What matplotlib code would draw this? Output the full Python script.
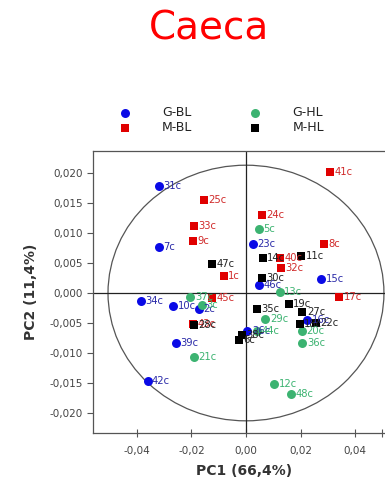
import matplotlib
matplotlib.use("Agg")
import matplotlib.pyplot as plt
from matplotlib.patches import Ellipse
from matplotlib.ticker import FuncFormatter, FixedLocator

# ---- data ----
gbl_names = ["31c", "7c", "23c", "46c", "15c", "34c", "10c", "2c", "39c", "42c", "26c", "16c"]
gbl_x = [-0.0319, -0.0319, 0.0026, 0.0049, 0.0275, -0.0386, -0.0267, -0.0174, -0.0257, -0.0361, 0.0005, 0.0225]
gbl_y = [0.0179, 0.0077, 0.0082, 0.0014, 0.0023, -0.0013, -0.0022, -0.0027, -0.0084, -0.0146, -0.0064, -0.0045]

ghl_names = ["5c", "13c", "37c", "3c", "21c", "29c", "44c", "20c", "36c", "12c", "48c"]
ghl_x = [0.0048, 0.0124, -0.0204, -0.0163, -0.0190, 0.0071, 0.0040, 0.0206, 0.0207, 0.0104, 0.0164]
ghl_y = [0.0106, 0.0002, -0.0007, -0.0020, -0.0106, -0.0043, -0.0064, -0.0063, -0.0083, -0.0151, -0.0169]

mbl_names = ["41c", "25c", "33c", "9c", "1c", "24c", "8c", "40c", "32c", "17c", "45c", "43c"]
mbl_x = [0.0308, -0.0155, -0.0191, -0.0196, -0.0082, 0.0059, 0.0287, 0.0124, 0.0127, 0.0342, -0.0124, -0.0195]
mbl_y = [0.0201, 0.0155, 0.0111, 0.0087, 0.0029, 0.0130, 0.0081, 0.0058, 0.0042, -0.0006, -0.0009, -0.0052]

mhl_names = ["47c", "14c", "11c", "30c", "35c", "19c", "27c", "22c", "18c", "38c", "6c", "28c"]
mhl_x = [-0.0125, 0.0061, 0.0203, 0.0059, 0.0039, 0.0157, 0.0207, 0.0256, 0.0197, -0.0014, -0.0026, -0.0190]
mhl_y = [0.0049, 0.0059, 0.0061, 0.0025, -0.0026, -0.0018, -0.0032, -0.0050, -0.0051, -0.0070, -0.0079, -0.0054]

x_ticks = [-0.04, -0.02, 0.00, 0.02, 0.04]
y_ticks = [-0.020, -0.015, -0.010, -0.005, 0.000, 0.005, 0.010, 0.015, 0.020]

# ---- figure ----
fig = plt.figure(figsize=(3.85, 4.83), dpi=100)
ax = fig.add_axes([0.2416, 0.1035, 0.7868, 0.5839])
ax.set_xlim(-0.0561, 0.055)
ax.set_ylim(-0.02333, 0.02367)

ax.add_patch(Ellipse((0, 0), 2 * 0.0506, 2 * 0.0213, fill=False, edgecolor="#555555", lw=0.9))
ax.axhline(0, color="#222222", lw=0.9)
ax.axvline(0, color="#222222", lw=0.9)

groups = [
    (gbl_names, gbl_x, gbl_y, "o", "#0a0ae6", "#2a2aa8", 42, "G-BL"),
    (ghl_names, ghl_x, ghl_y, "o", "#3cb371", "#3cb371", 42, "G-HL"),
    (mbl_names, mbl_x, mbl_y, "s", "#e00000", "#d02a2a", 34, "M-BL"),
    (mhl_names, mhl_x, mhl_y, "s", "#000000", "#222222", 34, "M-HL"),
]
handles = {}
for names, xs, ys, mk, col, tcol, s, lab in groups:
    h = ax.scatter(xs, ys, marker=mk, s=s, color=col, linewidths=0, label=lab, zorder=3)
    handles[lab] = h
    for n, x, y in zip(names, xs, ys):
        ax.annotate(n, (x, y), xytext=(3.2, 0), textcoords="offset points",
                    va="center", ha="left", fontsize=7.2, color=tcol, zorder=4)

ax.xaxis.set_major_locator(FixedLocator(x_ticks))
ax.xaxis.set_minor_locator(FixedLocator([0.05]))
ax.yaxis.set_major_locator(FixedLocator(y_ticks))
ax.xaxis.set_major_formatter(FuncFormatter(lambda v, p: f"{v:.2f}".replace(".", ",").replace("-0,00", "0,00")))
ax.yaxis.set_major_formatter(FuncFormatter(lambda v, p: f"{v:.3f}".replace(".", ",").replace("-0,000", "0,000")))
ax.tick_params(axis="x", which="both", direction="inout", length=6, width=0.8, colors="#555555",
               labelcolor="#444444", labelsize=7.5, pad=6)
ax.tick_params(axis="y", direction="out", length=4, width=0.8, colors="#555555",
               labelcolor="#444444", labelsize=7.5)
for sp in ax.spines.values():
    sp.set_color("#555555")
    sp.set_linewidth(0.9)

ax.set_xlabel("PC1 (66,4%)", fontsize=10, fontweight="bold", color="#333333", labelpad=6)
ax.set_ylabel("PC2 (11,4%)", fontsize=10, fontweight="bold", color="#333333", labelpad=8)

fig.text(209 / 385, 1 - 28 / 483, "Caeca", color="#ff0000", fontsize=28, ha="center", va="center")

fig.legend([handles["G-BL"], handles["M-BL"], handles["G-HL"], handles["M-HL"]],
           ["G-BL", "M-BL", "G-HL", "M-HL"], ncol=2, frameon=False,
           loc="center", bbox_to_anchor=(218 / 385, 1 - 120 / 483),
           fontsize=9, handletextpad=2.0, columnspacing=4.0, labelspacing=0.15,
           borderaxespad=0, labelcolor="#222222")

fig.savefig("out.png", dpi=100)
